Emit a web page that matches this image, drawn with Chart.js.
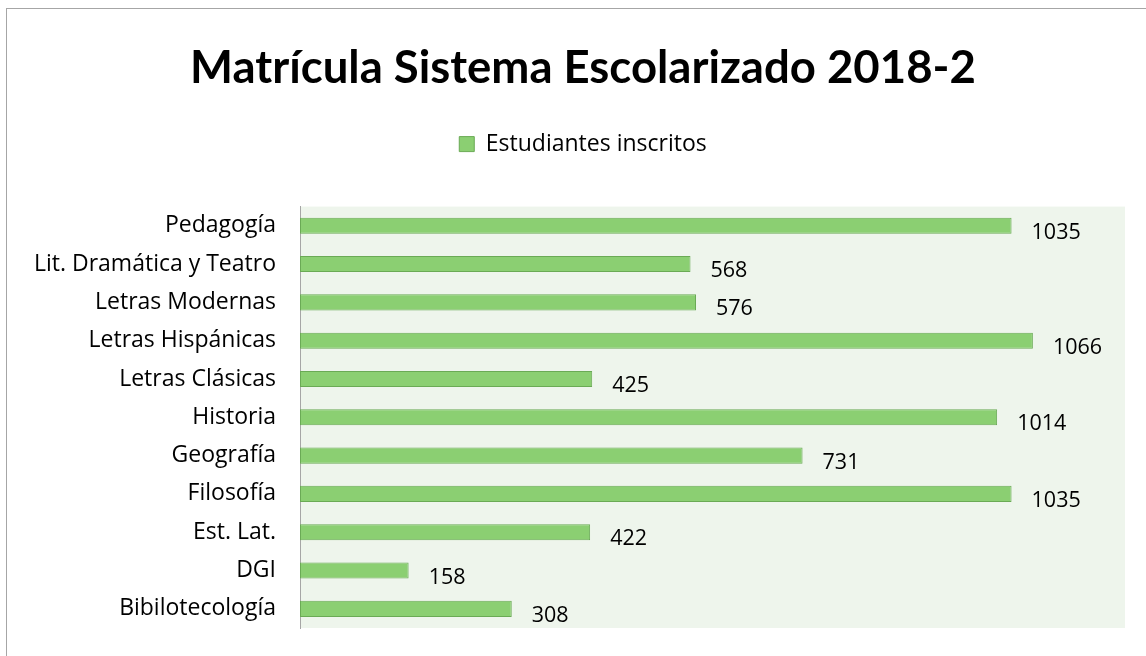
<!DOCTYPE html>
<html>
<head>
<meta charset="utf-8">
<script src="https://cdn.jsdelivr.net/npm/chart.js@4/dist/chart.umd.min.js"></script>
<style>
  html, body { margin: 0; padding: 0; background: #fff; overflow: hidden; }
  #wrap { position: relative; width: 1166px; height: 656px; }
</style>
</head>
<body>
<div id="wrap"><canvas id="chart"></canvas></div>
<script>
const categories = ['Pedagogía', 'Lit. Dramática y Teatro', 'Letras Modernas', 'Letras Hispánicas',
  'Letras Clásicas', 'Historia', 'Geografía', 'Filosofía', 'Est. Lat.', 'DGI', 'Bibilotecología'];
const inscritos = [1035, 568, 576, 1066, 425, 1014, 731, 1035, 422, 158, 308];
const seriesName = 'Estudiantes inscritos';
const chartTitle = 'Matrícula Sistema Escolarizado 2018-2';

const FONT = '"Open Sans", sans-serif';
const TITLE_FONT = 'Lato, "Open Sans", sans-serif';

// white page, grey frame and tinted plot area
const backdrop = {
  id: 'backdrop',
  beforeDraw(chart) {
    const { ctx, chartArea: a } = chart;
    ctx.save();
    ctx.fillStyle = '#fff';
    ctx.fillRect(0, 0, chart.width, chart.height);
    ctx.strokeStyle = '#a6a6a6';
    ctx.lineWidth = 1;
    ctx.strokeRect(6.5, 8.5, chart.width + 20, chart.height + 20);
    ctx.fillStyle = '#eef5ec';
    ctx.fillRect(a.left, a.top, a.right - a.left, a.bottom - a.top);
    ctx.restore();
  }
};

// value labels to the right of each bar
const valueLabels = {
  id: 'valueLabels',
  afterDatasetsDraw(chart) {
    const { ctx } = chart;
    const meta = chart.getDatasetMeta(0);
    ctx.save();
    ctx.font = '21.5px ' + FONT;
    ctx.fillStyle = '#000';
    ctx.textAlign = 'left';
    ctx.textBaseline = 'middle';
    meta.data.forEach((bar, i) => {
      ctx.fillText(String(inscritos[i]), bar.x + 20, bar.y + 7);
    });
    ctx.restore();
  }
};

new Chart(document.getElementById('chart'), {
  type: 'bar',
  data: {
    labels: categories,
    datasets: [{
      label: seriesName,
      data: inscritos,
      backgroundColor: '#8bcf72',
      borderColor: '#6aaa55',
      borderWidth: 1,
      borderSkipped: false,
      categoryPercentage: 1,
      barPercentage: 0.42
    }]
  },
  options: {
    indexAxis: 'y',
    responsive: true,
    maintainAspectRatio: false,
    animation: false,
    layout: { padding: { left: 0, right: 0, top: 0, bottom: 28 } },
    plugins: {
      title: {
        display: true,
        text: chartTitle,
        color: '#000',
        font: { family: TITLE_FONT, size: 45.5, weight: 'bold' },
        padding: { top: 41, bottom: 29 }
      },
      legend: {
        display: true,
        position: 'top',
        labels: {
          color: '#000',
          font: { family: FONT, size: 23 },
          boxWidth: 15,
          boxHeight: 15,
          padding: 8
        }
      },
      tooltip: { enabled: false }
    },
    scales: {
      x: {
        position: 'top',
        min: 0,
        max: 1200,
        grid: { display: false, drawTicks: false },
        border: { display: false },
        ticks: { display: false },
        afterFit(scale) { scale.height = 41; }
      },
      y: {
        grid: { display: false, drawTicks: false },
        border: { display: true, color: '#a6a6a6', width: 1 },
        ticks: {
          color: '#000',
          padding: 24,
          font: { family: FONT, size: 23 }
        },
        afterFit(scale) {
          scale.width = 300;
          scale.paddingTop = 0;
          scale.paddingBottom = 0;
        }
      },
      // empty right-hand axis, only keeps the white margin right of the plot
      yRight: {
        axis: 'y',
        position: 'right',
        grid: { display: false, drawTicks: false },
        border: { display: false },
        ticks: { display: false },
        afterFit(scale) {
          scale.width = 41;
          scale.paddingTop = 0;
          scale.paddingBottom = 0;
        }
      }
    }
  },
  plugins: [backdrop, valueLabels]
});
</script>
</body>
</html>
